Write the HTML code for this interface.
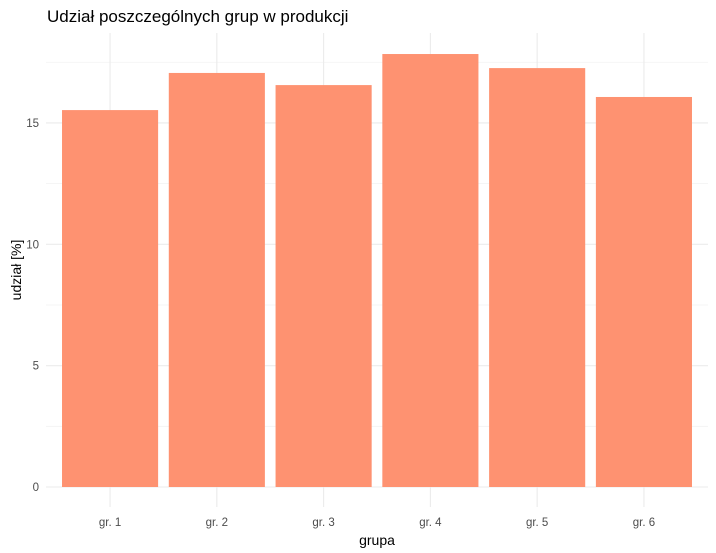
<!DOCTYPE html>
<html><head><meta charset="utf-8"><style>
body{margin:0;background:#fff;font-family:"Liberation Sans",sans-serif}
</style></head><body>
<svg id="chart" width="716" height="553" style="display:block">
<text x="47" y="22" font-size="17" fill="#000">Udział poszczególnych grup w produkcji</text>
<g id="grid"></g><g id="bars"></g><g id="axes"></g>
<text x="377" y="545" font-size="14" text-anchor="middle" fill="#000">grupa</text>
<text transform="translate(21,270) rotate(-90)" font-size="14" text-anchor="middle" fill="#000">udział [%]</text>
</svg>
<script>
const categories=["gr. 1","gr. 2","gr. 3","gr. 4","gr. 5","gr. 6"];
const values=[15.53,17.06,16.56,17.84,17.26,16.07];
const yTicks=[0,5,10,15];
const yMinor=[2.5,7.5,12.5,17.5];
const NS="http://www.w3.org/2000/svg";
const pLeft=46,pRight=708,pTop=33,pBottom=507;
const y0=487,pxPerUnit=24.27;
function y(v){return y0-v*pxPerUnit;}
const band=(pRight-pLeft)/(categories.length+0.2);
function xc(i){return pLeft+band*0.6+i*band;}
function mk(tag,attrs,parent){const e=document.createElementNS(NS,tag);for(const k in attrs)e.setAttribute(k,attrs[k]);document.getElementById(parent).appendChild(e);return e;}
yMinor.forEach(v=>{const l=mk('line',{x1:pLeft,x2:pRight,y1:y(v),y2:y(v),stroke:'#f2f2f2','stroke-width':0.8},'grid');

});
yTicks.forEach(v=>{const l=mk('line',{x1:pLeft,x2:pRight,y1:y(v),y2:y(v),stroke:'#ebebeb','stroke-width':1.1},'grid');


const t=mk('text',{x:39,y:y(v)+4,'font-size':11.5,'text-anchor':'end',fill:'#4d4d4d'},'axes');t.textContent=v;

});
categories.forEach((c,i)=>{const l=mk('line',{x1:xc(i),x2:xc(i),y1:pTop,y2:pBottom,stroke:'#ebebeb','stroke-width':1.1},'grid');


const w=band*0.9;
const r=mk('rect',{x:xc(i)-w/2,y:y(values[i]),width:w,height:y0-y(values[i]),fill:'#fe9271'},'bars');


const t=mk('text',{x:xc(i),y:526,'font-size':11.5,'text-anchor':'middle',fill:'#4d4d4d'},'axes');t.textContent=c;

});
</script>
</body></html>
